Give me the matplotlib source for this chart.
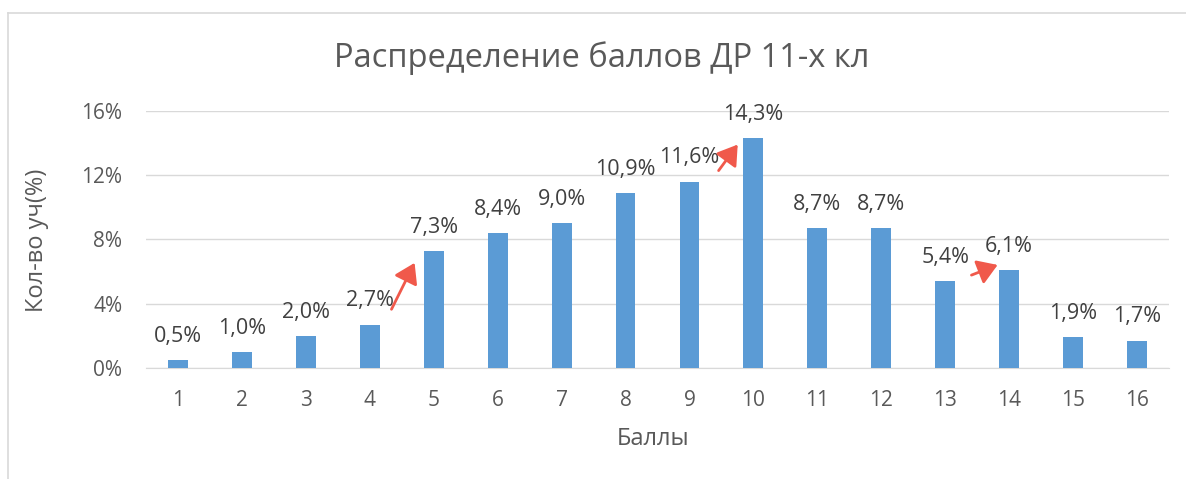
import matplotlib
matplotlib.use("Agg")
import matplotlib.pyplot as plt
from matplotlib.patches import FancyArrowPatch
from matplotlib.lines import Line2D

plt.rcParams['font.family'] = ['Open Sans', 'DejaVu Sans']

categories = [str(i) for i in range(1, 17)]
values = [0.5, 1.0, 2.0, 2.7, 7.3, 8.4, 9.0, 10.9, 11.6, 14.3, 8.7, 8.7, 5.4, 6.1, 1.9, 1.7]
labels = ["0,5%", "1,0%", "2,0%", "2,7%", "7,3%", "8,4%", "9,0%", "10,9%", "11,6%",
          "14,3%", "8,7%", "8,7%", "5,4%", "6,1%", "1,9%", "1,7%"]
yticks = [0, 4, 8, 12, 16]
ytick_labels = ["0%", "4%", "8%", "12%", "16%"]
# arrows: (x0, y0, x1, y1) in data coords (category index 1-based, percent)
arrows = [(4.32, 3.5, 4.72, 6.7), (9.43, 12.15, 9.78, 14.05), (13.37, 5.72, 13.86, 6.48)]

W, H = 1186, 479
fig = plt.figure(figsize=(W / 100, H / 100), dpi=100)
ax = fig.add_axes([146 / W, 1 - 368 / H, (1169 - 146) / W, (368 - 111) / H])

x = list(range(1, 17))
ax.bar(x, values, width=0.31, color="#5B9BD5", zorder=3)
for xi, v, lab in zip(x, values, labels):
    ax.annotate(lab, (xi, v), xytext=(0, 9.5), textcoords="offset points",
                ha="center", va="bottom", fontsize=15.5, color="#404040", zorder=4)

for x0, y0, x1, y1 in arrows:
    ax.add_patch(FancyArrowPatch((x0, y0), (x1, y1), arrowstyle="-|>,head_length=7,head_width=4.5",
                                 color="#F0594B", lw=2, mutation_scale=1.7, zorder=5))

ax.set_xlim(0.5, 16.5)
ax.set_ylim(0, 16)
ax.set_xticks(x)
ax.set_xticklabels(categories)
ax.set_yticks(yticks)
ax.set_yticklabels(ytick_labels)
ax.tick_params(axis="both", length=0, labelsize=15, labelcolor="#595959")
ax.tick_params(axis="x", pad=16)
ax.tick_params(axis="y", pad=17)
ax.grid(axis="y", color="#D9D9D9", lw=1, zorder=0)
for s in ["top", "right", "left"]:
    ax.spines[s].set_visible(False)
ax.spines["bottom"].set_color("#D9D9D9")

fig.text(602 / W, 1 - 58 / H, "Распределение баллов ДР 11-х кл", ha="center", va="center",
         fontsize=23.5, color="#595959")
fig.text(37 / W, 1 - 240 / H, "Кол-во уч(%)", rotation=90, ha="center", va="center",
         fontsize=17, color="#595959")
fig.text(653 / W, 1 - 439 / H, "Баллы", ha="center", va="center", fontsize=17, color="#595959")

fig.add_artist(Line2D([8 / W, 1.0], [1 - 12.5 / H, 1 - 12.5 / H], color="#D9D9D9", lw=1.2))
fig.add_artist(Line2D([8 / W, 8 / W], [0, 1 - 12.5 / H], color="#D9D9D9", lw=1.2))

fig.savefig("out.png", dpi=100, facecolor="white")
